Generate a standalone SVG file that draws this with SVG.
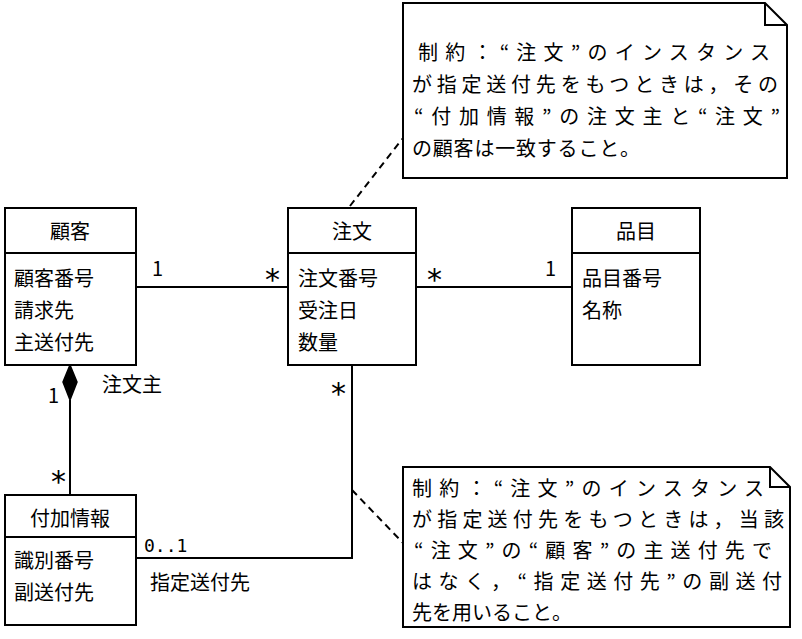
<svg xmlns="http://www.w3.org/2000/svg" width="802" height="639" viewBox="0 0 802 639">
<style>
.b{fill:#fff;stroke:#000;stroke-width:2}
.l{fill:none;stroke:#000;stroke-width:2}
.d{fill:none;stroke:#000;stroke-width:2;stroke-dasharray:7,5}
text{font-family:"Noto Sans CJK JP","Liberation Sans",sans-serif;font-size:20px;fill:#000}
.m{font-family:"DejaVu Sans Mono",monospace;font-size:18px}
.s{font-family:"DejaVu Sans",sans-serif;font-size:30px}
</style>
<rect width="802" height="639" fill="#fff"/>
<g id="fuka">
<rect class="b" x="5" y="495" width="131" height="130"/>
<line class="l" x1="5" y1="537" x2="136" y2="537"/>
<text x="70" y="526" text-anchor="middle">付加情報</text>
<text x="14" y="568">識別番号</text>
<text x="14" y="600">副送付先</text>
</g>
<g id="connectors">
<line class="l" x1="136" y1="287" x2="288" y2="287"/>
<line class="l" x1="416" y1="287" x2="572" y2="287"/>
<polygon points="70,365 77,382 70,400 63,382" fill="#000" stroke="#000" stroke-width="1.5"/>
<line class="l" x1="70" y1="400" x2="70" y2="495"/>
<polyline class="l" points="136,558 352,558 352,365"/>
<line class="d" x1="350" y1="206" x2="403" y2="138"/>
<line class="d" x1="352" y1="490" x2="405" y2="545"/>
<text x="152" y="276">1</text>
<text x="265" y="290" class="s">*</text>
<text x="427" y="290" class="s">*</text>
<text x="545" y="276">1</text>
<text x="48" y="403">1</text>
<text x="102" y="392">注文主</text>
<text x="51" y="492" class="s">*</text>
<text x="331" y="404" class="s">*</text>
<text x="144" y="552" class="m">0..1</text>
<text x="150" y="590">指定送付先</text>
</g>
<g id="kokyaku">
<rect class="b" x="5" y="208" width="131" height="157"/>
<line class="l" x1="5" y1="253" x2="136" y2="253"/>
<text x="70" y="239" text-anchor="middle">顧客</text>
<text x="14" y="286">顧客番号</text>
<text x="14" y="318">請求先</text>
<text x="14" y="350">主送付先</text>
</g>
<g id="chumon">
<rect class="b" x="288" y="208" width="128" height="157"/>
<line class="l" x1="288" y1="253" x2="416" y2="253"/>
<text x="352" y="239" text-anchor="middle">注文</text>
<text x="298" y="286">注文番号</text>
<text x="298" y="318">受注日</text>
<text x="298" y="350">数量</text>
</g>
<g id="hinmoku">
<rect class="b" x="572" y="208" width="128" height="157"/>
<line class="l" x1="572" y1="253" x2="700" y2="253"/>
<text x="636" y="239" text-anchor="middle">品目</text>
<text x="582" y="286">品目番号</text>
<text x="582" y="318">名称</text>
</g>
<g id="note1">
<path class="b" d="M403,3 H765 L787,25 V178 H403 Z"/>
<path class="l" d="M765,3 V25 H787"/>
<text x="418" y="60" textLength="352" lengthAdjust="spacing">制約：“注文”のインスタンス</text>
<text x="412" y="92" textLength="366" lengthAdjust="spacing">が指定送付先をもつときは，その</text>
<text x="414" y="124" textLength="366" lengthAdjust="spacing">“付加情報”の注文主と“注文”</text>
<text x="412" y="156" textLength="228" lengthAdjust="spacing">の顧客は一致すること。</text>
</g>
<g id="note2">
<path class="b" d="M403,467 H770 L790,487 V627 H403 Z"/>
<path class="l" d="M770,467 V487 H790"/>
<text x="412" y="496" textLength="352" lengthAdjust="spacing">制約：“注文”のインスタンス</text>
<text x="412" y="527" textLength="372" lengthAdjust="spacing">が指定送付先をもつときは，当該</text>
<text x="414" y="558" textLength="358" lengthAdjust="spacing">“注文”の“顧客”の主送付先で</text>
<text x="412" y="589" textLength="370" lengthAdjust="spacing">はなく，“指定送付先”の副送付</text>
<text x="412" y="620" textLength="160" lengthAdjust="spacing">先を用いること。</text>
</g>
</svg>
